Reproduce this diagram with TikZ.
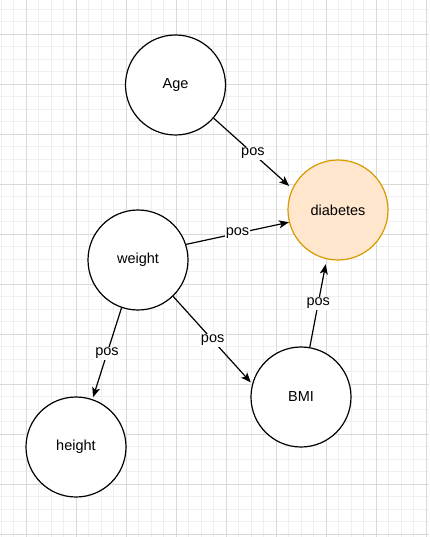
\documentclass[tikz,border=0pt]{standalone}
\usepackage{fontspec}
\setmainfont{Liberation Sans}
\usetikzlibrary{arrows.meta}
\definecolor{minorgrid}{HTML}{EFEFEF}
\definecolor{majorgrid}{HTML}{D9D9D9}
\definecolor{diabfill}{HTML}{FFE6CC}
\definecolor{diabdraw}{HTML}{D79B00}
\tikzset{
  var/.style={circle, draw=black, line width=1.2pt, fill=white, minimum size=100pt, inner sep=0pt, font=\fontsize{14.5}{16}\selectfont},
  outcome/.style={var, draw=diabdraw, fill=diabfill},
  conn/.style={line width=1.2pt, -{Stealth[length=10pt,width=8pt,inset=2.5pt]}},
  lbl/.style={fill=white, inner sep=1pt, font=\fontsize{14.5}{16}\selectfont}
}
\begin{document}
\begin{tikzpicture}[x=1pt,y=-1pt]
\useasboundingbox (0,0) rectangle (429,537);
\fill[white] (0,0) rectangle (429,537);
% grid
\foreach \i in {0,...,34} {
  \draw[minorgrid, line width=0.8pt] ({1+12.5*\i},0) -- ({1+12.5*\i},537);
}
\foreach \i in {0,...,42} {
  \draw[minorgrid, line width=0.8pt] (0,{9+12.5*\i}) -- (429,{9+12.5*\i});
}
\foreach \i in {0,...,8} {
  \draw[majorgrid, line width=0.8pt] ({26+50*\i},0) -- ({26+50*\i},537);
}
\foreach \i in {0,...,10} {
  \draw[majorgrid, line width=0.8pt] (0,{34+50*\i}) -- (429,{34+50*\i});
}
% nodes
\node[var] (age) at (175.5,85) {Age};
\node[outcome] (diab) at (338,210) {diabetes};
\node[var] (weight) at (138,260) {weight};
\node[var] (bmi) at (301,397) {BMI};
\node[var] (height) at (76,447) {height};
% connectors
\draw[conn, shorten >=4pt] (age.-41) -- node[lbl] {pos} (diab.155);
\draw[conn] (weight.18) -- node[lbl] {pos} (diab.194);
\draw[conn, shorten >=2pt] (weight.251) -- node[lbl] {pos} (height.71);
\draw[conn, shorten >=2pt] (weight.-46) -- node[lbl] {pos} (bmi.165);
\draw[conn, shorten >=5pt] (bmi.80) -- node[lbl] {pos} (diab.257);
\end{tikzpicture}
\end{document}
